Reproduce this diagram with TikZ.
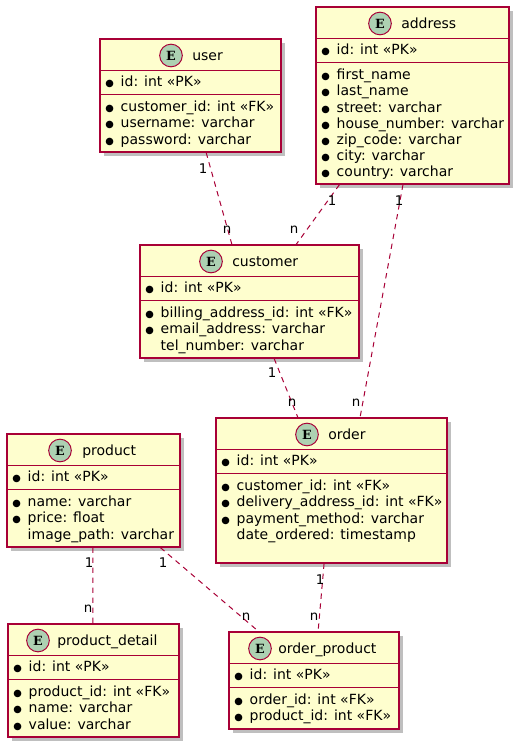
\documentclass[tikz,border=0pt]{standalone}
\usepackage{fontspec}
\usepackage{graphicx}
\setmainfont{DejaVu Sans}
\newfontfamily\efont{DejaVu Serif}
\usetikzlibrary{calc, fit, shadows}
\definecolor{entfill}{HTML}{FEFECE}
\definecolor{entline}{HTML}{A80036}
\definecolor{entmark}{HTML}{ADD1B2}
\newcommand{\bu}{\makebox[9pt]{\scalebox{0.7}{●}}\hspace{3.8pt}}
\newcommand{\nobu}{\hspace{12.8pt}}
\tikzset{
  entity/.style={draw=entline, fill=entfill, line width=0.9pt, inner sep=0pt,
    drop shadow={shadow xshift=3pt, shadow yshift=-3pt, opacity=0.25, fill=black}},
  divider/.style={draw=entline, line width=0.75pt},
  emark/.style={circle, draw=entline, fill=entmark, line width=0.75pt, minimum size=17pt,
    inner sep=0pt, font=\efont\bfseries\fontsize{9.5}{9.5}\selectfont},
  etitle/.style={anchor=base west, inner sep=0pt},
  pk/.style={anchor=base west, inner sep=0pt},
  attrs/.style={anchor=north west, inner sep=0pt, align=left},
  rel/.style={draw=entline, line width=0.75pt, dash pattern=on 4pt off 3.5pt},
  card/.style={inner sep=0pt, font=\fontsize{10}{12}\selectfont},
  every node/.append style={font=\fontsize{10.5}{12.15}\selectfont}
}

\begin{document}
\begin{tikzpicture}[x=0.75pt, y=-0.75pt]
\useasboundingbox (0,0) rectangle (522,750);

% user
\node[entity, fit={(100,39) (281,152)}] (user) {};
\draw[divider] ([yshift=-24pt]user.north west) -- ([yshift=-24pt]user.north east);
\draw[divider] ([yshift=-42pt]user.north west) -- ([yshift=-42pt]user.north east);
\node[emark] (user-e) at (171,55.5) {E};
\node[etitle] (user-t) at (192,60) {user};
\node[pk] (user-pk) at ([xshift=3pt, yshift=-36pt]user.north west) {\bu id: int «PK»};
\node[attrs] (user-at) at ([xshift=3pt, yshift=-46.8pt]user.north west)
  {\bu customer\_id: int «FK»\\ \bu username: varchar\\ \bu password: varchar};

% address
\node[entity, fit={(316,7) (509,184)}] (address) {};
\draw[divider] ([yshift=-24pt]address.north west) -- ([yshift=-24pt]address.north east);
\draw[divider] ([yshift=-42pt]address.north west) -- ([yshift=-42pt]address.north east);
\node[emark] (address-e) at (380,23.5) {E};
\node[etitle] (address-t) at (401,28) {address};
\node[pk] (address-pk) at ([xshift=3pt, yshift=-36pt]address.north west) {\bu id: int «PK»};
\node[attrs] (address-at) at ([xshift=3pt, yshift=-46.8pt]address.north west)
  {\bu first\_name\\ \bu last\_name\\ \bu street: varchar\\ \bu house\_number: varchar\\
   \bu zip\_code: varchar\\ \bu city: varchar\\ \bu country: varchar};

% customer
\node[entity, fit={(140,245) (359,358)}] (customer) {};
\draw[divider] ([yshift=-24pt]customer.north west) -- ([yshift=-24pt]customer.north east);
\draw[divider] ([yshift=-42pt]customer.north west) -- ([yshift=-42pt]customer.north east);
\node[emark] (customer-e) at (211,261.5) {E};
\node[etitle] (customer-t) at (232,266) {customer};
\node[pk] (customer-pk) at ([xshift=3pt, yshift=-36pt]customer.north west) {\bu id: int «PK»};
\node[attrs] (customer-at) at ([xshift=3pt, yshift=-46.8pt]customer.north west)
  {\bu billing\_address\_id: int «FK»\\ \bu email\_address: varchar\\ \nobu tel\_number: varchar};

% product
\node[entity, fit={(7,434) (180,547)}] (product) {};
\draw[divider] ([yshift=-24pt]product.north west) -- ([yshift=-24pt]product.north east);
\draw[divider] ([yshift=-42pt]product.north west) -- ([yshift=-42pt]product.north east);
\node[emark] (product-e) at (60,450.5) {E};
\node[etitle] (product-t) at (82,455) {product};
\node[pk] (product-pk) at ([xshift=3pt, yshift=-36pt]product.north west) {\bu id: int «PK»};
\node[attrs] (product-at) at ([xshift=3pt, yshift=-46.8pt]product.north west)
  {\bu name: varchar\\ \bu price: float\\ \nobu image\_path: varchar};

% order
\node[entity, fit={(216,418) (447,563)}] (order) {};
\draw[divider] ([yshift=-24pt]order.north west) -- ([yshift=-24pt]order.north east);
\draw[divider] ([yshift=-42pt]order.north west) -- ([yshift=-42pt]order.north east);
\node[emark] (order-e) at (307,434.5) {E};
\node[etitle] (order-t) at (328,439) {order};
\node[pk] (order-pk) at ([xshift=3pt, yshift=-36pt]order.north west) {\bu id: int «PK»};
\node[attrs] (order-at) at ([xshift=3pt, yshift=-46.8pt]order.north west)
  {\bu customer\_id: int «FK»\\ \bu delivery\_address\_id: int «FK»\\
   \bu payment\_method: varchar\\ \nobu date\_ordered: timestamp};

% product_detail
\node[entity, fit={(8,624) (179,737)}] (detail) {};
\draw[divider] ([yshift=-24pt]detail.north west) -- ([yshift=-24pt]detail.north east);
\draw[divider] ([yshift=-42pt]detail.north west) -- ([yshift=-42pt]detail.north east);
\node[emark] (detail-e) at (38,640.5) {E};
\node[etitle] (detail-t) at (57,645) {product\_detail};
\node[pk] (detail-pk) at ([xshift=3pt, yshift=-36pt]detail.north west) {\bu id: int «PK»};
\node[attrs] (detail-at) at ([xshift=3pt, yshift=-46.8pt]detail.north west)
  {\bu product\_id: int «FK»\\ \bu name: varchar\\ \bu value: varchar};

% order_product
\node[entity, fit={(229,632) (399,729)}] (oprod) {};
\draw[divider] ([yshift=-24pt]oprod.north west) -- ([yshift=-24pt]oprod.north east);
\draw[divider] ([yshift=-42pt]oprod.north west) -- ([yshift=-42pt]oprod.north east);
\node[emark] (oprod-e) at (260,648.5) {E};
\node[etitle] (oprod-t) at (278,653) {order\_product};
\node[pk] (oprod-pk) at ([xshift=3pt, yshift=-36pt]oprod.north west) {\bu id: int «PK»};
\node[attrs] (oprod-at) at ([xshift=3pt, yshift=-46.8pt]oprod.north west)
  {\bu order\_id: int «FK»\\ \bu product\_id: int «FK»};

% relations
\draw[rel] ($(user.south west)!0.586!(user.south east)$) -- ($(customer.north west)!0.42!(customer.north east)$);
\node[card] at (203,169) {1};
\node[card] at (227,230) {n};

\draw[rel] ($(address.south west)!0.124!(address.south east)$) -- ($(customer.north west)!0.712!(customer.north east)$);
\node[card] at (332,201) {1};
\node[card] at (294,230) {n};

\draw[rel] ($(address.south west)!0.451!(address.south east)$) -- ($(order.north west)!0.623!(order.north east)$);
\node[card] at (399,201) {1};
\node[card] at (356,403) {n};

\draw[rel] ($(customer.south west)!0.612!(customer.south east)$) -- ($(order.north west)!0.355!(order.north east)$);
\node[card] at (272,373) {1};
\node[card] at (292,403) {n};

\draw[rel] ($(product.south west)!0.497!(product.south east)$) -- ($(detail.north west)!0.497!(detail.north east)$);
\node[card] at (89,563) {1};
\node[card] at (88,609) {n};

\draw[rel] ($(product.south west)!0.884!(product.south east)$) -- ($(oprod.north west)!0.176!(oprod.north east)$);
\node[card] at (163,563) {1};
\node[card] at (246,617) {n};

\draw[rel] ($(order.south west)!0.468!(order.south east)$) -- ($(oprod.north west)!0.524!(oprod.north east)$);
\node[card] at (320,580) {1};
\node[card] at (314,617) {n};

\end{tikzpicture}
\end{document}
